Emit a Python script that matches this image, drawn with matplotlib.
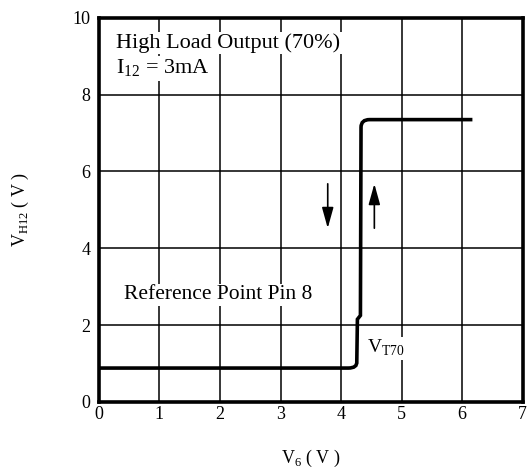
import numpy as np
import matplotlib.pyplot as plt
from matplotlib.path import Path
from matplotlib.patches import PathPatch

plt.rcParams['font.family'] = ['Liberation Serif', 'DejaVu Serif']
plt.rcParams['mathtext.fontset'] = 'custom'
plt.rcParams['mathtext.rm'] = 'Liberation Serif'

# transfer curve (V6 -> VH12)
v6 = [0.0, 4.12, 4.26, 4.27, 4.32, 4.33, 4.47, 6.17]
vh12 = [0.88, 0.88, 1.05, 2.15, 2.25, 7.15, 7.35, 7.35]

xticks = [0, 1, 2, 3, 4, 5, 6, 7]
yticks = [0, 2, 4, 6, 8, 10]

fig = plt.figure(figsize=(5.29, 4.70), dpi=100)
ax = fig.add_axes([0.187, 0.145, 0.801, 0.817])

# curve with rounded corners (quadratic bezier at the bends)
verts = [(v6[0], vh12[0]), (v6[1], vh12[1]),
         (v6[2] + 0.01, vh12[1]), (v6[2], vh12[2]),
         (v6[3], vh12[3]), (v6[4], vh12[4]), (v6[5], vh12[5]),
         (v6[5], vh12[6]), (v6[6], vh12[6]), (v6[7], vh12[7])]
codes = [Path.MOVETO, Path.LINETO, Path.CURVE3, Path.CURVE3,
         Path.LINETO, Path.LINETO, Path.LINETO,
         Path.CURVE3, Path.CURVE3, Path.LINETO]
ax.add_patch(PathPatch(Path(verts, codes), fill=False, lw=2.6,
                       color='black', capstyle='butt', zorder=3))

ax.set_xlim(0, 7)
ax.set_ylim(0, 10)
ax.set_xticks(xticks)
ax.set_yticks(yticks)
ax.grid(True, color='black', lw=1.1)
ax.tick_params(length=0, labelsize=13)
ax.tick_params(axis='y', pad=6)
ax.tick_params(axis='x', pad=3)
for s in ax.spines.values():
    s.set_linewidth(2.6)

ax.set_xlabel(r'V$_\mathrm{6}$ ( V )', fontsize=13, labelpad=18)
ax.set_ylabel(r'V$_\mathrm{H12}$ ( V )', fontsize=13, labelpad=30)

box = dict(facecolor='white', edgecolor='none', pad=1)
ax.text(0.29, 9.35, 'High Load Output (70%)', fontsize=16, va='center',
        bbox=box, zorder=4)
ax.text(0.29, 8.68, r'I$_\mathrm{12}$ = 3mA', fontsize=16, va='center',
        bbox=box, zorder=5)
ax.text(0.42, 2.79, 'Reference Point Pin 8', fontsize=15.5, va='center',
        bbox=box, zorder=4)
ax.text(4.43, 1.4, r'V$_\mathrm{T70}$', fontsize=14, va='center',
        bbox=box, zorder=4)

ax.annotate('', xy=(3.78, 4.45), xytext=(3.78, 5.75),
            arrowprops=dict(arrowstyle='-|>,head_width=0.25,head_length=0.9',
                            color='black', lw=1.2, mutation_scale=14))
ax.annotate('', xy=(4.55, 5.75), xytext=(4.55, 4.45),
            arrowprops=dict(arrowstyle='-|>,head_width=0.25,head_length=0.9',
                            color='black', lw=1.2, mutation_scale=14))

fig.savefig('out.png', dpi=100)
